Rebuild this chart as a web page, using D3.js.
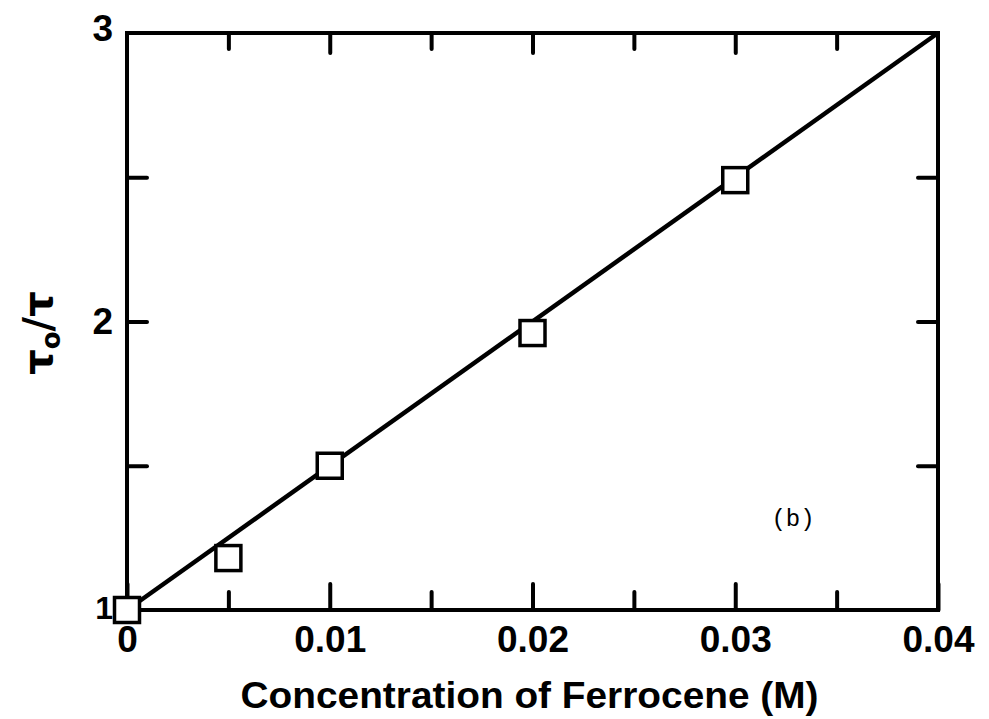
<!DOCTYPE html>
<html>
<head>
<meta charset="utf-8">
<script src="https://cdn.jsdelivr.net/npm/d3@7"></script>
<style>
  html, body { margin: 0; padding: 0; background: #fff; }
  svg { display: block; }
  .tick text { font-family: "Liberation Sans", Arial, sans-serif; font-weight: bold; }
</style>
</head>
<body>
<svg id="chart" width="989" height="719"></svg>
<script>
// Ferrocene quenching data (Stern–Volmer style plot)
const concentrations = [0, 0.005, 0.01, 0.02, 0.03];
const tauRatio = [1.0, 1.18, 1.5, 1.96, 2.49];
// Fitted straight line endpoints
const fitX = [0, 0.04];
const fitY = [1, 3];

const xTicks = [0, 0.005, 0.01, 0.015, 0.02, 0.025, 0.03, 0.035, 0.04];
const xMajor = [0, 0.01, 0.02, 0.03, 0.04];
const xTickLabels = ["0", "0.01", "0.02", "0.03", "0.04"];
const yTicks = [1, 1.5, 2, 2.5, 3];
const yMajor = [1, 2, 3];
const yTickLabels = ["1", "2", "3"];

const svg = d3.select("#chart");
const plotLeft = 127, plotRight = 938, plotTop = 33, plotBottom = 610;

const x = d3.scaleLinear().domain([0, 0.04]).range([plotLeft, plotRight]);
const y = d3.scaleLinear().domain([1, 3]).range([plotBottom, plotTop]);

const ink = "#000";
const xLabel = v => { const i = xMajor.findIndex(m => Math.abs(m - v) < 1e-9); return i >= 0 ? xTickLabels[i] : ""; };
const yLabel = v => { const i = yMajor.findIndex(m => Math.abs(m - v) < 1e-9); return i >= 0 ? yTickLabels[i] : ""; };
const isMajorX = v => xMajor.some(m => Math.abs(m - v) < 1e-9);

// Frame
svg.append("rect")
  .attr("x", plotLeft).attr("y", plotTop)
  .attr("width", plotRight - plotLeft).attr("height", plotBottom - plotTop)
  .attr("fill", "none").attr("stroke", ink).attr("stroke-width", 4);

// Bottom axis (ticks point inward)
const gx = svg.append("g").attr("transform", `translate(0,${plotBottom})`)
  .call(d3.axisBottom(x).tickValues(xTicks).tickFormat(xLabel).tickSize(0).tickPadding(26));
gx.select(".domain").remove();
gx.selectAll(".tick line")
  .attr("y2", d => isMajorX(d) ? -26 : -18)
  .attr("stroke", ink).attr("stroke-width", 4).attr("stroke-linecap", "round");
gx.selectAll(".tick text").attr("font-size", 37).attr("fill", ink).attr("dy", "0.71em").attr("y", 16);

// Top axis: tick marks only
const gt = svg.append("g").attr("transform", `translate(0,${plotTop})`)
  .call(d3.axisTop(x).tickValues(xTicks.filter(v => v > 0 && v < 0.04)).tickFormat("").tickSize(0));
gt.select(".domain").remove();
gt.selectAll(".tick line")
  .attr("y2", d => isMajorX(d) ? 20 : 16)
  .attr("stroke", ink).attr("stroke-width", 4).attr("stroke-linecap", "round");

// Left axis
const gy = svg.append("g").attr("transform", `translate(${plotLeft},0)`)
  .call(d3.axisLeft(y).tickValues(yTicks).tickFormat(yLabel).tickSize(0).tickPadding(14));
gy.select(".domain").remove();
gy.selectAll(".tick line")
  .attr("x2", d => (d > 1 && d < 3) ? 20 : 0)
  .attr("stroke", ink).attr("stroke-width", 4).attr("stroke-linecap", "round");
gy.selectAll(".tick text").attr("font-size", 37).attr("fill", ink);
gy.selectAll(".tick").filter(d => d === 3).select("text").attr("dy", "0.2em");
gy.selectAll(".tick").filter(d => d === 1).select("text").attr("dy", "0.25em").attr("font-size", 32);

// Right axis: tick marks only
const gr = svg.append("g").attr("transform", `translate(${plotRight},0)`)
  .call(d3.axisRight(y).tickValues(yTicks.filter(v => v > 1 && v < 3)).tickFormat("").tickSize(0));
gr.select(".domain").remove();
gr.selectAll(".tick line")
  .attr("x2", -20)
  .attr("stroke", ink).attr("stroke-width", 4).attr("stroke-linecap", "round");

// Fit line
const line = d3.line().x(d => x(d[0])).y(d => y(d[1]));
svg.append("path")
  .datum(d3.zip(fitX, fitY))
  .attr("d", line)
  .attr("fill", "none").attr("stroke", ink).attr("stroke-width", 4.5);

// Open square markers
const s = 25;
svg.append("g").selectAll("rect")
  .data(d3.zip(concentrations, tauRatio))
  .join("rect")
  .attr("x", d => x(d[0]) - s / 2)
  .attr("y", d => y(d[1]) - s / 2)
  .attr("width", s).attr("height", s)
  .attr("fill", "#fff").attr("stroke", ink).attr("stroke-width", 3.5);

// Axis titles
svg.append("text")
  .attr("x", (plotLeft + plotRight) / 2 - 3).attr("y", 708)
  .attr("text-anchor", "middle")
  .attr("font-family", "'Liberation Sans', Arial, sans-serif")
  .attr("font-weight", "bold").attr("font-size", 36)
  .attr("textLength", 578).attr("lengthAdjust", "spacingAndGlyphs")
  .text("Concentration of Ferrocene (M)");

const yt = svg.append("text")
  .attr("transform", "translate(52,333) rotate(-90)")
  .attr("text-anchor", "middle")
  .attr("font-family", "'DejaVu Sans', sans-serif")
  .attr("font-weight", "bold").attr("font-size", 40);
yt.append("tspan").text("τ");
yt.append("tspan").attr("font-size", 26).attr("dy", 8).text("o");
yt.append("tspan").attr("dy", -8).text("/τ");

// Panel label
svg.append("text")
  .attr("x", 793).attr("y", 526)
  .attr("text-anchor", "middle")
  .attr("font-family", "'Liberation Mono', 'Courier New', monospace")
  .attr("font-size", 24)
  .text("(b)");
</script>
</body>
</html>
